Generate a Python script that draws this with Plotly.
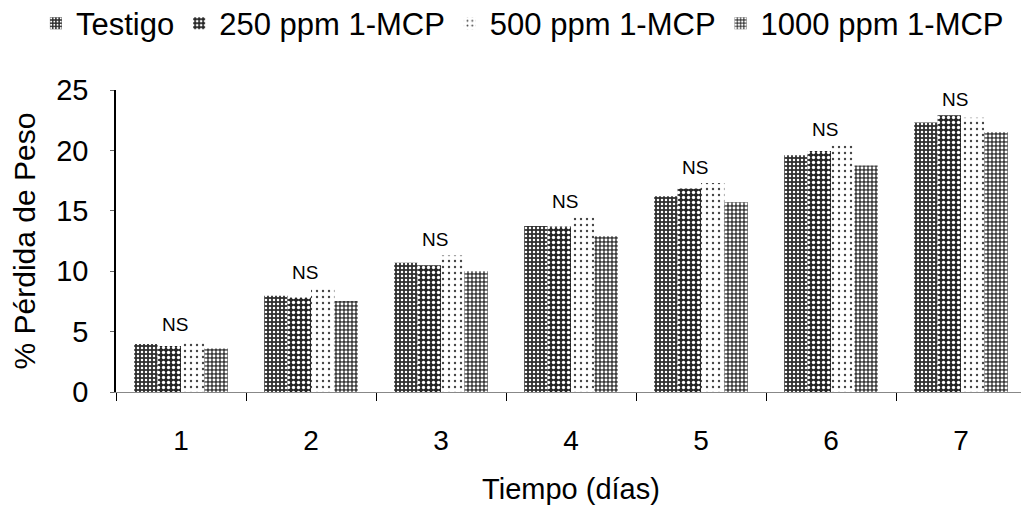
import plotly.graph_objects as go

dias = ["1", "2", "3", "4", "5", "6", "7"]
testigo = [3.97, 7.97, 10.7, 13.75, 16.2, 19.6, 22.3]
ppm250 = [3.8, 7.83, 10.5, 13.7, 16.85, 19.95, 22.9]
ppm500 = [4.25, 8.6, 11.3, 14.45, 17.3, 20.4, 22.7]
ppm1000 = [3.6, 7.53, 10.0, 12.9, 15.7, 18.75, 21.5]
series_names = ["Testigo", "250 ppm 1-MCP", "500 ppm 1-MCP", "1000 ppm 1-MCP"]
ns_labels = ["NS"] * 7

FONT = "Liberation Sans, Arial, Helvetica, sans-serif"

styles = [
    dict(bg="#2e2e2e", fg="white", shape=".", size=4, sol=0.3),
    dict(bg="#262626", fg="white", shape=".", size=5, sol=0.35),
    dict(bg="white", fg="#444444", shape=".", size=6, sol=0.12),
    dict(bg="#3c3c3c", fg="white", shape=".", size=4, sol=0.42),
]

fig = go.Figure()
for name, vals, st in zip(series_names, [testigo, ppm250, ppm500, ppm1000], styles):
    fig.add_trace(go.Bar(
        x=dias, y=vals, name=name,
        marker=dict(
            color=st["bg"], line=dict(width=0),
            pattern=dict(shape=st["shape"], fgcolor=st["fg"], bgcolor=st["bg"],
                         size=st["size"], solidity=st["sol"], fillmode="replace"),
        ),
    ))

for i, (a, b, c, e, lab) in enumerate(zip(testigo, ppm250, ppm500, ppm1000, ns_labels)):
    fig.add_annotation(x=i, y=max(a, b, c, e), text=lab, showarrow=False,
                       yanchor="middle", yshift=16, xshift=-6,
                       font=dict(family=FONT, size=19, color="black"))

# page body adds an 8px margin, so the figure is sized to fit inside the window
fig.update_layout(
    width=1021, height=504,
    margin=dict(l=108, r=3, t=82, b=120, autoexpand=False),
    paper_bgcolor="white", plot_bgcolor="white",
    barmode="group", bargap=0.28, bargroupgap=0,
    font=dict(family=FONT, size=29, color="black"),
    showlegend=True,
    legend=dict(orientation="h", x=-0.088, xanchor="left", y=1.22, yanchor="middle",
                font=dict(family=FONT, size=31), itemwidth=30,
                bgcolor="rgba(0,0,0,0)", traceorder="normal"),
)
fig.update_xaxes(
    type="category", range=[-0.5, 6.5], showline=True, linecolor="#888888", linewidth=1,
    ticks="outside", tickson="boundaries", ticklen=8, tickcolor="black", tickwidth=1,
    ticklabelstandoff=23,
    tickfont=dict(family=FONT, size=28),
    title=dict(text="Tiempo (días)", font=dict(family=FONT, size=29), standoff=24),
    showgrid=False, zeroline=False,
)
fig.update_yaxes(
    range=[0, 25], tickvals=[0, 5, 10, 15, 20, 25],
    showline=True, linecolor="black", linewidth=1.5,
    ticks="outside", ticklen=4, tickcolor="#666666",
    ticklabelstandoff=16,
    tickfont=dict(family=FONT, size=29),
    title=dict(text="% Pérdida de Peso", font=dict(family=FONT, size=30), standoff=25),
    showgrid=False, zeroline=False,
)

fig.write_html("out.html")
